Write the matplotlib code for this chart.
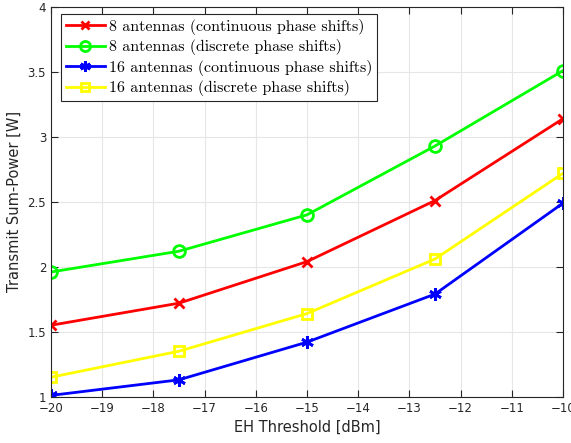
import matplotlib.pyplot as plt
import numpy as np

# EH threshold values (dBm)
eh_threshold = [-20, -17.5, -15, -12.5, -10]

# Transmit sum-power [W]
p8_cont = [1.55, 1.72, 2.04, 2.51, 3.14]
p8_disc = [1.96, 2.12, 2.40, 2.93, 3.51]
p16_cont = [1.01, 1.13, 1.42, 1.79, 2.49]
p16_disc = [1.15, 1.35, 1.64, 2.06, 2.72]

labels = ["8 antennas (continuous phase shifts)",
          "8 antennas (discrete phase shifts)",
          "16 antennas (continuous phase shifts)",
          "16 antennas (discrete phase shifts)"]

fig = plt.figure(figsize=(5.71, 4.43), dpi=100)
ax = fig.add_axes([51 / 571, 46.3 / 443, 512 / 571, 389.7 / 443])

lw = 2
ax.plot(eh_threshold, p8_cont, color='#ff0000', lw=lw, marker='x', ms=7, mew=2, label=labels[0])
ax.plot(eh_threshold, p8_disc, color='#00ff00', lw=lw, marker='o', ms=8.5, mew=2, mfc='none', label=labels[1])
ax.plot(eh_threshold, p16_cont, color='#0000ff', lw=lw, marker=(6, 2, 0), ms=9, mew=2, label=labels[2])
ax.plot(eh_threshold, p16_disc, color='#ffff00', lw=lw, marker='s', ms=7, mew=2, mfc='none', label=labels[3])

ax.set_xlim(-20, -10)
ax.set_ylim(1, 4)
ax.set_xticks(np.arange(-20, -9, 1))
ax.set_yticks(np.arange(1, 4.01, 0.5))
ax.set_yticklabels(['1', '1.5', '2', '2.5', '3', '3.5', '4'])

ax.grid(True, color='#e6e6e6', lw=0.8)
ax.set_axisbelow(True)
ax.tick_params(direction='in', length=5, width=0.8, labelsize=8.5, colors='#262626',
               top=True, right=True)
for s in ax.spines.values():
    s.set_color('#262626')
    s.set_linewidth(0.8)

ax.set_xlabel("EH Threshold [dBm]", fontsize=10.5, color='#262626', labelpad=4)
ax.set_ylabel("Transmit Sum-Power [W]", fontsize=10.5, color='#262626', labelpad=4)

leg = ax.legend(loc='upper left', bbox_to_anchor=(0.019, 0.982), prop={'family': 'cmr10', 'size': 11.5},
                handlelength=2.5, handletextpad=0.2, borderaxespad=0, borderpad=0.3,
                labelspacing=0.28, markerscale=0.85, fancybox=False, framealpha=1,
                edgecolor='#262626')
leg.get_frame().set_linewidth(0.8)

plt.savefig("out.png", dpi=100)
